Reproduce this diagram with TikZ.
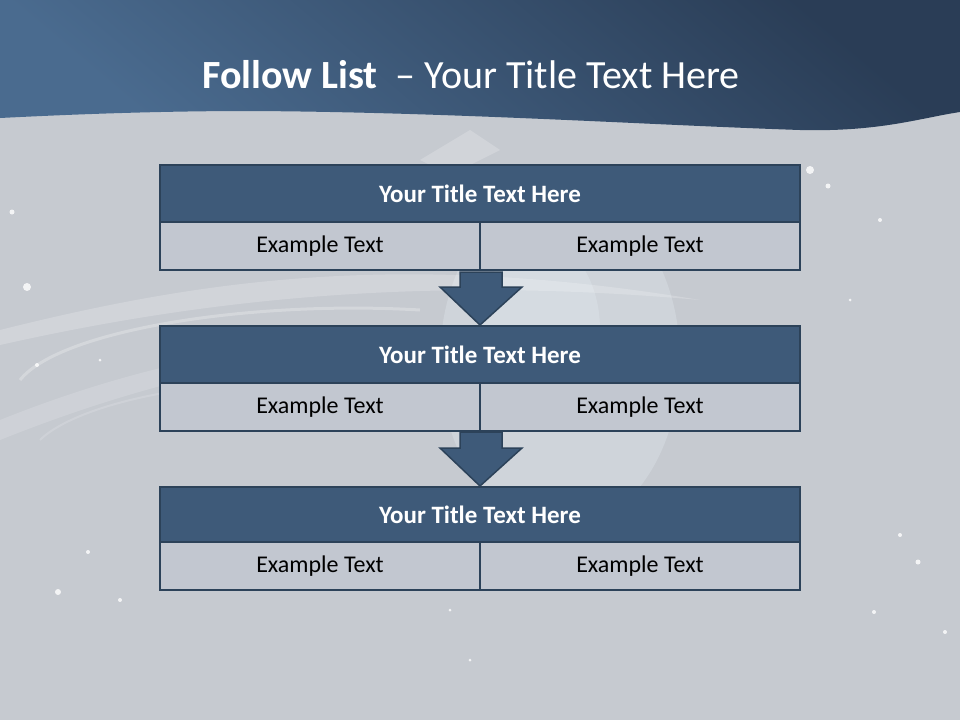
\documentclass[tikz,border=0pt]{standalone}
\usepackage{fontspec}
\setmainfont{Carlito}
\definecolor{hdrdark}{HTML}{2A3D56}
\definecolor{hdrlight}{HTML}{4A6B8F}
\definecolor{bg}{HTML}{C6CAD0}
\definecolor{titlefill}{HTML}{3E5A79}
\definecolor{rowfill}{HTML}{C2C7D0}
\definecolor{edge}{HTML}{2C4259}
\definecolor{glow}{HTML}{E4EEF4}
\tikzset{
  titlebar/.style={draw=edge,line width=2pt,fill=titlefill,minimum width=640pt,minimum height=57pt,inner sep=0pt,text=white,font=\bfseries\fontsize{25pt}{30pt}\selectfont},
  cellbox/.style={draw=edge,line width=2pt,fill=rowfill,minimum width=320pt,minimum height=48pt,inner sep=0pt,text=black,font=\fontsize{24pt}{29pt}\selectfont},
  downarrow/.style={draw=edge,line width=1.5pt,fill=titlefill},
  sparkle/.style={fill=white,opacity=0.8}
}
\begin{document}
\begin{tikzpicture}[x=1pt,y=-1pt]
\useasboundingbox (0,0) rectangle (960,720);
% background
\fill[bg] (0,0) rectangle (960,720);
% glows and streaks
\fill[glow,opacity=0.3] (560,360) ellipse (120 and 170);
\fill[glow,opacity=0.3] (540,330) ellipse (60 and 90);
\fill[white,opacity=0.2] (0,330) .. controls (200,280) and (400,250) .. (700,300) .. controls (420,275) and (200,300) .. (0,345) -- cycle;
\fill[white,opacity=0.15] (0,420) .. controls (150,360) and (300,330) .. (520,330) .. controls (300,345) and (150,380) .. (0,440) -- cycle;
\fill[white,opacity=0.2] (420,160) -- (470,130) -- (500,150) -- (450,175) -- cycle;
\draw[white,opacity=0.25,line width=3pt] (20,380) .. controls (60,330) and (250,300) .. (420,310);
\draw[white,opacity=0.15,line width=2pt] (40,440) .. controls (80,400) and (250,360) .. (430,400);
% sparkles
\foreach \p/\r in {{(27,287)/4},{(12,212)/2.5},{(58,592)/3},{(88,552)/2},{(37,365)/2},{(810,170)/4},{(828,186)/2.5},{(900,535)/2},{(918,562)/2.5},{(874,612)/2},{(945,632)/2},{(120,600)/2},{(450,610)/1.5},{(470,660)/1.5},{(850,300)/1.5},{(880,220)/2},{(100,360)/1.5}}
  \fill[sparkle] \p circle (\r);
% header band
\shade[top color=hdrdark,bottom color=hdrlight,shading angle=-40]
  (0,0) -- (960,0) -- (960,112) .. controls (920,118) and (880,132) .. (800,130)
  .. controls (650,125) and (450,112) .. (250,111) .. controls (150,111) and (60,115) .. (0,118) -- cycle;
\node[anchor=base,text=white,font=\fontsize{40pt}{48pt}\selectfont] (maintitle) at (471,88)
  {\textbf{Follow List}\ \ – Your Title Text Here};
% box 1
\node[titlebar] (t1) at (480,193.5) {Your Title Text Here};
\node[cellbox] (a1) at (320,246) {Example Text};
\node[cellbox] (b1) at (640,246) {Example Text};
% box 2
\node[titlebar] (t2) at (480,354.5) {Your Title Text Here};
\node[cellbox] (a2) at (320,407) {Example Text};
\node[cellbox] (b2) at (640,407) {Example Text};
% box 3
\node[titlebar,minimum height=55pt] (t3) at (480,514.5) {Your Title Text Here};
\node[cellbox] (a3) at (320,566) {Example Text};
\node[cellbox] (b3) at (640,566) {Example Text};
% arrows
\draw[downarrow] (460,272) -- (460,287) -- (440,287) -- (t2.north) -- (522,287) -- (502,287) -- (502,272) -- cycle;
\draw[downarrow] (460,432) -- (460,448) -- (440,448) -- (t3.north) -- (522,448) -- (502,448) -- (502,432) -- cycle;
\end{tikzpicture}
\end{document}
